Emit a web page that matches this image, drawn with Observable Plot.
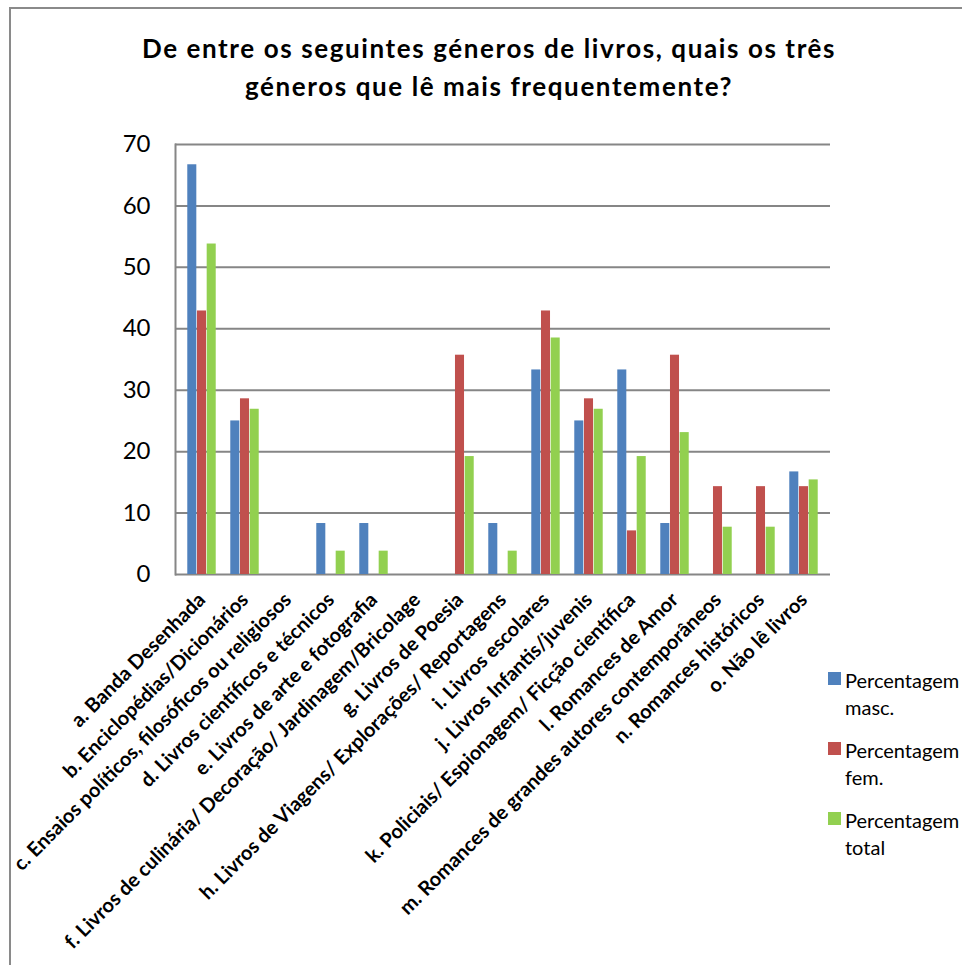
<!DOCTYPE html>
<html>
<head>
<meta charset="utf-8">
<script src="https://cdn.jsdelivr.net/npm/d3@7"></script>
<script src="https://cdn.jsdelivr.net/npm/@observablehq/plot@0.6"></script>
<style>
  html, body { margin: 0; padding: 0; background: #fff; }
  #wrap { position: relative; width: 962px; height: 965px; overflow: hidden; font-family: Lato, "Open Sans", sans-serif; }
  #frame { position: absolute; left: 9px; top: 7px; width: 980px; height: 990px; border-left: 2px solid #8a8a8a; border-top: 2px solid #8a8a8a; box-sizing: border-box; }
  #title { position: relative; height: 120px; box-sizing: border-box; padding-top: 29px; text-align: center; font-weight: bold; font-size: 26px; letter-spacing: 1.6px; line-height: 38px; color: #000; padding-left: 16px; }
  #legend { position: absolute; left: 828px; top: 672px; font-size: 20px; line-height: 27px; color: #000; }
  .item { position: relative; padding-left: 17px; height: 70px; }
  .sw { position: absolute; left: 0; top: 0; width: 13px; height: 13px; }
  .item .t { position: relative; top: -5px; }
</style>
</head>
<body>
<div id="wrap">
  <div id="frame"></div>
  <div id="title"></div>
  <div id="chart"></div>
  <div id="legend"></div>
</div>
<script>
const titleLines = ["De entre os seguintes géneros de livros, quais os três", "géneros que lê mais frequentemente?"];
const categories = [
  "a. Banda Desenhada",
  "b. Enciclopédias/Dicionários",
  "c. Ensaios políticos, filosóficos ou religiosos",
  "d. Livros científicos e técnicos",
  "e. Livros de arte e fotografia",
  "f. Livros de culinária/ Decoração/ Jardinagem/Bricolage",
  "g. Livros de Poesia",
  "h. Livros de Viagens/ Explorações/ Reportagens",
  "i. Livros escolares",
  "j. Livros Infantis/juvenis",
  "k. Policiais/ Espionagem/ Ficção científica",
  "l. Romances de Amor",
  "m. Romances de grandes autores contemporâneos",
  "n. Romances históricos",
  "o. Não lê livros"
];
const seriesNames = ["Percentagem masc.", "Percentagem fem.", "Percentagem total"];
const seriesColors = ["#4F81BD", "#C0504D", "#92D050"];
const masc  = [66.7, 25.0, 0, 8.3, 8.3, 0, 0, 8.3, 33.3, 25.0, 33.3, 8.3, 0, 0, 16.7];
const fem   = [42.9, 28.6, 0, 0, 0, 0, 35.7, 0, 42.9, 28.6, 7.1, 35.7, 14.3, 14.3, 14.3];
const total = [53.8, 26.9, 0, 3.8, 3.8, 0, 19.2, 3.8, 38.5, 26.9, 19.2, 23.1, 7.7, 7.7, 15.4];
const yTicks = [0, 10, 20, 30, 40, 50, 60, 70];

const seriesValues = [masc, fem, total];

document.getElementById("title").innerHTML = titleLines.join("<br>");

const width = 962, height = 845;
const mL = 175, mR = 132, mT = 24, mB = 391;
const step = (width - mL - mR) / categories.length;
const groupPad = 1 / 6, barFrac = 2 / 9;

const marks = [
  Plot.gridY({ticks: yTicks, stroke: "#868686", strokeOpacity: 1, strokeWidth: 2}),
  Plot.frame({anchor: "left", stroke: "#868686", strokeWidth: 2}),
  Plot.axisY({ticks: yTicks, tickSize: 0, tickPadding: 25, fontSize: 24, fill: "#000", fontFamily: "Lato", label: null}),
  Plot.axisX({tickRotate: -45, tickSize: 0, tickPadding: 22, fontSize: 20, fontWeight: "bold", fill: "#000", fontFamily: "Lato", label: null, style: "letter-spacing:0.4px"})
];

seriesValues.forEach((vals, s) => {
  const rows = categories.map((c, i) => ({category: c, value: vals[i]})).filter(d => d.value > 0);
  marks.push(Plot.barY(rows, {
    x: "category",
    y: "value",
    fill: seriesColors[s],
    insetLeft: step * (groupPad + s * barFrac),
    insetRight: step * (1 - groupPad - (s + 1) * barFrac)
  }));
});

const chart = Plot.plot({
  width, height,
  marginLeft: mL, marginRight: mR, marginTop: mT, marginBottom: mB,
  style: {background: "transparent", overflow: "visible"},
  x: {type: "band", domain: categories, padding: 0, axis: null},
  y: {domain: [0, 70], axis: null},
  marks
});
document.getElementById("chart").appendChild(chart);

const legend = document.getElementById("legend");
seriesNames.forEach((name, s) => {
  const [w1, w2] = [name.split(" ")[0], name.split(" ").slice(1).join(" ")];
  const item = document.createElement("div");
  item.className = "item";
  item.innerHTML = `<div class="sw" style="background:${seriesColors[s]}"></div><div class="t">${w1}<br>${w2}</div>`;
  legend.appendChild(item);
});
</script>
</body>
</html>
